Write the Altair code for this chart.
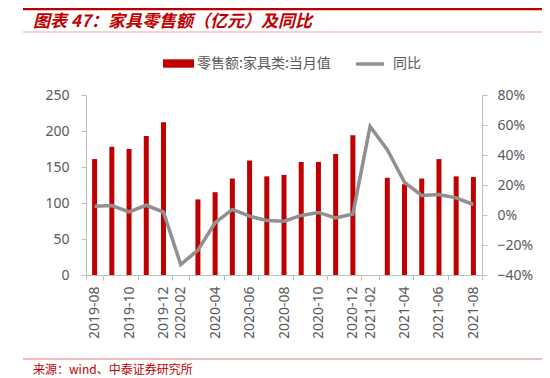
import altair as alt
import pandas as pd

months = ["2019-08", "2019-09", "2019-10", "2019-11", "2019-12",
          "2020-01", "2020-02", "2020-03", "2020-04", "2020-05", "2020-06",
          "2020-07", "2020-08", "2020-09", "2020-10", "2020-11", "2020-12",
          "2021-01", "2021-02", "2021-03", "2021-04", "2021-05", "2021-06",
          "2021-07", "2021-08"]
sales = [161, 178, 175, 193, 212,
         None, None, 105, 115, 134, 159,
         137, 139, 157, 157, 168, 194,
         None, None, 135, 126, 134, 161,
         137, 136]
yoy = [5.8, 6.3, 2.1, 6.5, 2.0,
       None, -33.0, -23.4, -5.2, 3.7, -0.8,
       -3.7, -4.1, -0.3, 1.7, -2.0, 0.7,
       None, 59.0, 43.5, 21.8, 13.0, 13.6,
       11.4, 7.0]
tick_months = months[::2]
left_ticks = [0, 50, 100, 150, 200, 250]
right_ticks = [-0.4, -0.2, 0.0, 0.2, 0.4, 0.6, 0.8]

bar_name = "零售额:家具类:当月值"
line_name = "同比"
title_text = "图表 47：家具零售额（亿元）及同比"
source_text = "来源：wind、中泰证券研究所"

RED = "#C00000"
GRAY_LINE = "#909090"
LABEL = "#595959"
AXIS = "#BFBFBF"
FONT = "Noto Sans CJK SC"
NUMFONT = "Noto Sans"

df = pd.DataFrame({"month": months, "sales": sales,
                   "yoy": [v / 100 if v is not None else None for v in yoy]})

xenc = alt.X("month:O", sort=months,
             scale=alt.Scale(paddingInner=0, paddingOuter=0),
             axis=alt.Axis(title=None, values=tick_months, labelAngle=270,
                           tickBand="extent", labelFont=NUMFONT, labelFontSize=14,
                           labelColor=LABEL, domainColor=AXIS, tickColor=AXIS,
                           tickSize=5, labelPadding=6, grid=False))

bars = alt.Chart(df).mark_bar(size=5).encode(
    x=xenc,
    y=alt.Y("sales:Q", scale=alt.Scale(domain=[0, 250]),
            axis=alt.Axis(title=None, values=left_ticks, labelFont=NUMFONT,
                          labelFontSize=14, labelColor=LABEL, domainColor=AXIS,
                          tickColor=AXIS, tickSize=5, labelPadding=12, grid=False)),
    fill=alt.Fill("series:N",
                  scale=alt.Scale(domain=[bar_name], range=[RED]),
                  legend=alt.Legend(title=None, orient="none", legendX=77, legendY=-47,
                                    symbolType="M-1,-0.27L1,-0.27L1,0.27L-1,0.27Z",
                                    symbolSize=961, symbolStrokeWidth=0,
                                    labelFont=FONT, labelFontSize=14, labelColor=LABEL,
                                    labelOffset=3, padding=0)),
).transform_calculate(series=f"'{bar_name}'").transform_filter("isValid(datum.sales)")

line = alt.Chart(df).mark_line(strokeWidth=3.5, interpolate="linear").encode(
    x=xenc,
    y=alt.Y("yoy:Q", scale=alt.Scale(domain=[-0.4, 0.8]),
            axis=alt.Axis(title=None, orient="right", values=right_ticks, format=".0%",
                          labelFont=NUMFONT, labelFontSize=14, labelColor=LABEL,
                          domainColor=AXIS, tickColor=AXIS, tickSize=5,
                          labelPadding=10, grid=False)),
    stroke=alt.Stroke("series:N",
                      scale=alt.Scale(domain=[line_name], range=[GRAY_LINE]),
                      legend=alt.Legend(title=None, orient="none", legendX=268, legendY=-47,
                                        symbolType="stroke", symbolSize=784,
                                        symbolStrokeWidth=3.5,
                                        labelFont=FONT, labelFontSize=14, labelColor=LABEL,
                                        labelOffset=7, padding=0)),
).transform_calculate(series=f"'{line_name}'").transform_filter("isValid(datum.yoy)")

one = pd.DataFrame({"k": [0]})
top_rule = alt.Chart(one).mark_rule(color=RED, strokeWidth=2.5).encode(
    x=alt.value(-63), x2=alt.value(460), y=alt.value(-86))
title_rule = alt.Chart(one).mark_rule(color="#EBA3A3", strokeWidth=1).encode(
    x=alt.value(-63), x2=alt.value(460), y=alt.value(-63))
title_mark = alt.Chart(one).mark_text(
    text=title_text, align="left", baseline="middle", font=FONT, fontSize=17,
    fontStyle="italic", fontWeight="bold", color=RED).encode(
    x=alt.value(-53), y=alt.value(-73))
src_rule = alt.Chart(one).mark_rule(color="#E57A7A", strokeWidth=1).encode(
    x=alt.value(-63), x2=alt.value(460), y=alt.value(264))
src_mark = alt.Chart(one).mark_text(
    text=source_text, align="left", baseline="middle", font=FONT, fontSize=12,
    color=RED).encode(x=alt.value(-53), y=alt.value(275))

chart = alt.layer(bars, line, top_rule, title_rule, title_mark, src_rule, src_mark).resolve_scale(
    y="independent", fill="independent", stroke="independent"
).properties(
    width=396, height=180,
    autosize=alt.AutoSizeParams(type="none"),
    padding={"left": 78, "top": 87, "right": 60, "bottom": 102},
).configure_view(stroke=None)

chart.save("out.html", embed_options={"renderer": "svg", "actions": False})
